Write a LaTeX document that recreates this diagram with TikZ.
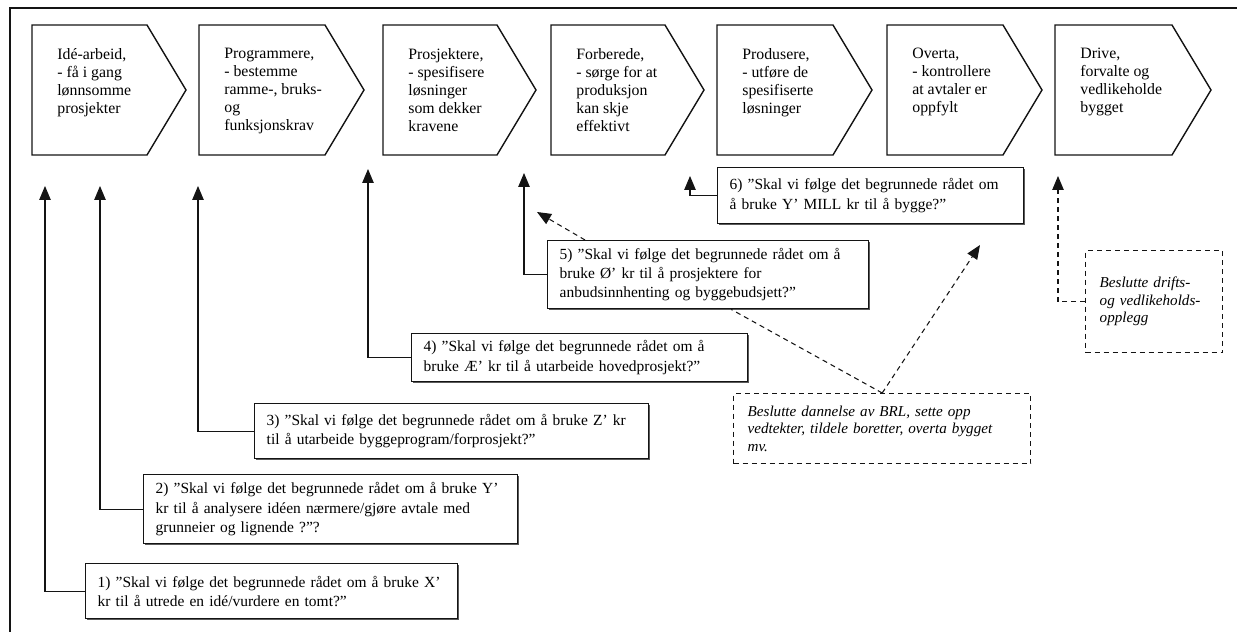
\documentclass[tikz,border=0pt]{standalone}
\usepackage{fontspec}
\setmainfont{Liberation Serif}
\usetikzlibrary{arrows.meta,positioning,shadows}
\definecolor{ink}{RGB}{20,20,20}
\tikzset{
  >={Triangle[length=2.8mm,width=2.3mm]},
  fase/.style={draw=ink,line width=0.8pt,line join=miter},
  fasetekst/.style={anchor=north west,align=left,inner sep=0pt,
    font=\fontsize{9}{10.2}\selectfont},
  sporsmal/.style={draw=ink,line width=0.8pt,fill=white,anchor=north west,align=left,
    inner xsep=2.4mm,inner ysep=1mm,minimum height=11mm,font=\fontsize{8.8}{11}\selectfont,
    drop shadow={shadow xshift=0.3mm,shadow yshift=-0.3mm,opacity=0.7,fill=ink}},
  beslutning/.style={draw=ink,line width=0.8pt,dash pattern=on 1mm off 0.8mm,
    anchor=north west,align=left,inner xsep=2.8mm,inner ysep=1mm,
    font=\itshape\fontsize{8.6}{10}\selectfont},
  pil/.style={->,draw=ink,line width=0.6pt},
  stiplet/.style={pil,dash pattern=on 1mm off 0.8mm},
}
\begin{document}
\begin{tikzpicture}[x=0.2mm,y=-0.2mm]
  \useasboundingbox (0,0) rectangle (1237,632);
  % ramme
  \draw[ink,line width=1.1pt] (1237,8) -- (10,8) -- (10,632);
  % fasene i prosjektet
  \foreach \l/\w/\t [count=\i] in {
      32/115/{Idé-arbeid,\\ - få i gang\\ lønnsomme\\ prosjekter},
      199/126/{Programmere,\\ - bestemme\\ ramme-, bruks-\\ og\\ funksjonskrav},
      383/114/{Prosjektere,\\ - spesifisere\\ løsninger\\ som dekker\\ kravene},
      551/114/{Forberede,\\ - sørge for at\\ produksjon\\ kan skje\\ effektivt},
      717/116/{Produsere,\\ - utføre de\\ spesifiserte\\ løsninger},
      887/116/{Overta,\\ - kontrollere\\ at avtaler er\\ oppfylt},
      1055/117/{Drive,\\ forvalte og\\ vedlikeholde\\ bygget}}{
    \draw[fase] (\l,25) -- (\l+\w,25) -- (\l+\w+39,90) -- (\l+\w,155) -- (\l,155) -- cycle;
    \node[fasetekst] (f\i) at (\l+25,48) {\t};
  }
  % pilspisser under fasene
  \foreach \x/\y [count=\i] in {45/186,100/186,198/186,368/169,524/173,690/176,1058/176}
    \coordinate (t\i) at (\x,\y);
  \coordinate (u5) at (537,212);
  \coordinate (u6) at (980,245);
  % beslutningspunkter
  \node[sporsmal,text width=69.6mm] (q1) at (85,563)
    {1) "Skal vi følge det begrunnede rådet om å bruke X'\\ kr til å utrede en idé/vurdere en tomt?"};
  \node[sporsmal,text width=70mm,minimum height=13.8mm] (q2) at (143,474)
    {2) "Skal vi følge det begrunnede rådet om å bruke Y'\\ kr til å analysere idéen nærmere/gjøre avtale med\\ grunneier og lignende ?"?};
  \node[sporsmal,text width=74mm] (q3) at (254,403)
    {3) "Skal vi følge det begrunnede rådet om å bruke Z' kr\\ til å utarbeide byggeprogram/forprosjekt?"};
  \node[sporsmal,text width=62.4mm,minimum height=9.6mm] (q4) at (411,333)
    {4) "Skal vi følge det begrunnede rådet om å\\ bruke Æ' kr til å utarbeide hovedprosjekt?"};
  \node[sporsmal,text width=59.4mm,minimum height=13.6mm] (q5) at (547,240)
    {5) "Skal vi følge det begrunnede rådet om å\\ bruke Ø' kr til å prosjektere for\\ anbudsinnhenting og byggebudsjett?"};
  \node[sporsmal,text width=56.4mm,minimum height=11.2mm] (q6) at (717,167)
    {6) "Skal vi følge det begrunnede rådet om\\ å bruke Y' MILL kr til å bygge?"};
  \node[beslutning,text width=53.8mm,minimum height=14mm] (d1) at (733,393)
    {Beslutte dannelse av BRL, sette opp\\ vedtekter, tildele boretter, overta bygget\\ mv.};
  \node[beslutning,text width=21.8mm,minimum height=20.4mm] (d2) at (1085,250)
    {Beslutte drifts-\\ og vedlikeholds-\\ opplegg};
  % koblinger
  \foreach \i in {1,...,6} \draw[pil] (q\i.west) -| (t\i);
  \draw[stiplet] (d2.west) -| (t7);
  \draw[stiplet] ([xshift=7.6mm]q5.north west) -- (u5);
  \draw[stiplet,-] (d1.north) -- ([xshift=4.6mm]q5.south);
  \draw[stiplet] (d1.north) -- (u6);
\end{tikzpicture}
\end{document}
